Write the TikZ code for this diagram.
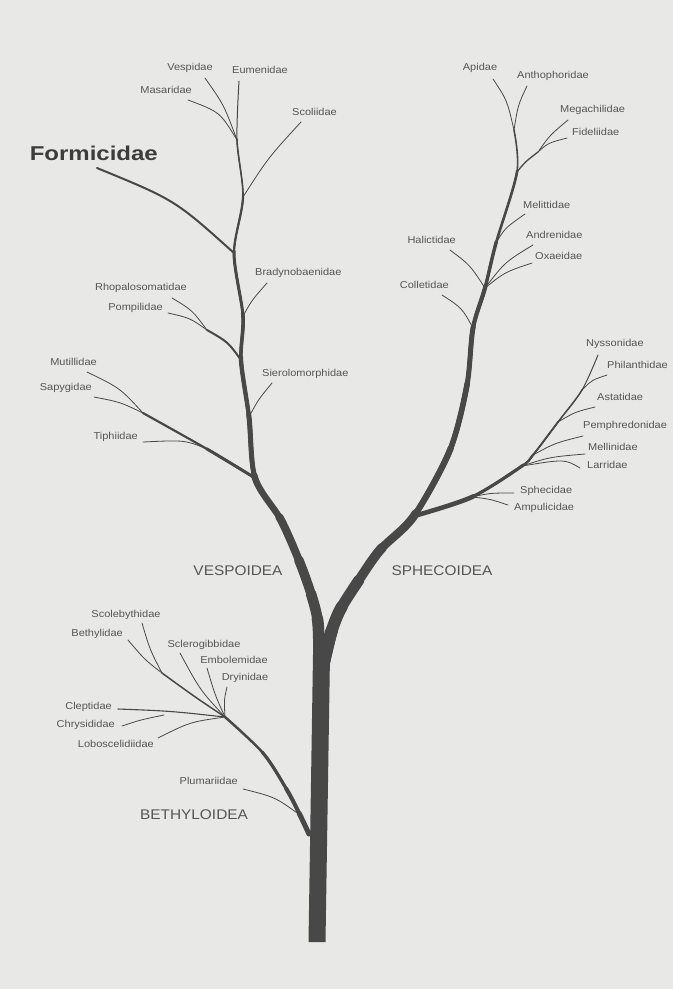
\documentclass[tikz,border=0pt]{standalone}
\usepackage{fontspec}
\usetikzlibrary{positioning}
\newfontfamily\labfont[FakeStretch=1.1]{Liberation Sans}
\newfontfamily\headfont[FakeStretch=1.2]{Liberation Sans}
\definecolor{paper}{HTML}{E8E8E6}
\definecolor{bark}{HTML}{484848}
\definecolor{inkl}{HTML}{555555}
\definecolor{inkd}{HTML}{3C3C3C}

\begin{document}
\begin{tikzpicture}[x=1pt, y=-1pt,
  fam/.style={font=\labfont\fontsize{10}{12}\selectfont, text=inkl, inner sep=0pt},
  famL/.style={fam, anchor=mid east},
  famR/.style={fam, anchor=mid west},
  famC/.style={fam, anchor=mid},
  group/.style={font=\labfont\fontsize{14}{16}\selectfont, text=inkl, inner sep=0pt, anchor=center},
  twig/.style={draw=bark, line width=0.8pt, line cap=round},
  stem/.style={draw=bark, line cap=round, line join=round},
  startat/.style={dash pattern=on 3000pt off #1pt, dash phase=3000pt}]
\fill[paper] (0,0) rectangle (673,989);
\path[use as bounding box] (0,0) rectangle (673,989);

% junctions along the three stems
\coordinate (eu) at (239,81);
\coordinate (vt) at (237,140);
\coordinate (vs) at (243,197);
\coordinate (vf) at (234,253);
\coordinate (vb) at (243,316);
\coordinate (vp) at (241,360);
\coordinate (vsi) at (249,417);
\coordinate (vti) at (255,478);
\coordinate (va) at (281,520);
\coordinate (vbb) at (300,563);
\coordinate (vc) at (312,597);
\coordinate (vd) at (318,623);
\coordinate (vj) at (319,660);
\coordinate (st) at (514,130);
\coordinate (sm) at (517,172);
\coordinate (sme) at (496,243);
\coordinate (sh) at (485,288);
\coordinate (sc) at (473,328);
\coordinate (sd) at (467,385);
\coordinate (se) at (450,450);
\coordinate (sph) at (414,516);
\coordinate (s1) at (380,550);
\coordinate (s2) at (357,583);
\coordinate (s3) at (340,610);
\coordinate (s4) at (331,633);
\coordinate (sj) at (324,662);
\coordinate (sp1) at (472,497);
\coordinate (sp2) at (522,466);
\coordinate (sp3) at (533,455);
\coordinate (sp4) at (558,422);
\coordinate (sp5) at (582,390);
\coordinate (ny) at (598,355);
\coordinate (bt) at (225,717);
\coordinate (bm) at (263,753);
\coordinate (bn) at (287,790);
\coordinate (bo) at (300,815);
\coordinate (bj) at (309,834);
\coordinate (pj) at (207,330);
\coordinate (mj) at (143,413);
\coordinate (tj) at (207,449);
\coordinate (mg) at (538,152);
\coordinate (bbj) at (162,673);
\coordinate (cj) at (164,715);

% family names
\node[famC] (vespidae) at (190,68) {Vespidae};
\node[famC] (eumenidae) at (260,71) {Eumenidae};
\node[famL] (masaridae) at (192,91) {Masaridae};
\node[famR] (scoliidae) at (292,113) {Scoliidae};
\node[font=\headfont\bfseries\fontsize{20}{22}\selectfont, text=inkd, inner sep=0pt, anchor=east] (formicidae) at (158,153) {Formicidae};
\node[famR] (bradyno) at (255,273) {Bradynobaenidae};
\node[famL] (rhopalo) at (187,288) {Rhopalosomatidae};
\node[famL] (pompilidae) at (163,308) {Pompilidae};
\node[famR] (sierolo) at (262,374) {Sierolomorphidae};
\node[famL] (mutillidae) at (97,363) {Mutillidae};
\node[famL] (sapygidae) at (92,388) {Sapygidae};
\node[famL] (tiphiidae) at (138,437) {Tiphiidae};
\node[famC] (apidae) at (480,68) {Apidae};
\node[famR] (anthopho) at (517,76) {Anthophoridae};
\node[famR] (megachil) at (560,110) {Megachilidae};
\node[famR] (fideliid) at (572,133) {Fideliidae};
\node[famR] (melittid) at (523,206) {Melittidae};
\node[famL] (halictid) at (456,241) {Halictidae};
\node[famR] (andrenid) at (526,236) {Andrenidae};
\node[famR] (oxaeidae) at (535,257) {Oxaeidae};
\node[famL] (colletid) at (449,286) {Colletidae};
\node[famR] (nyssonid) at (586,344) {Nyssonidae};
\node[famR] (philanth) at (607,366) {Philanthidae};
\node[famR] (astatid) at (597,398) {Astatidae};
\node[famR] (pemphred) at (583,426) {Pemphredonidae};
\node[famR] (mellinid) at (588,448) {Mellinidae};
\node[famR] (larridae) at (587,466) {Larridae};
\node[famR] (sphecid) at (520,491) {Sphecidae};
\node[famR] (ampulic) at (514,508) {Ampulicidae};
\node[famC] (scolebyt) at (126,615) {Scolebythidae};
\node[famL] (bethylid) at (123,634) {Bethylidae};
\node[famC] (sclerogi) at (204,645) {Sclerogibbidae};
\node[famC] (embolemi) at (234,661) {Embolemidae};
\node[famC] (dryinid) at (245,678) {Dryinidae};
\node[famL] (cleptid) at (112,707) {Cleptidae};
\node[famL] (chrysid) at (115,725) {Chrysididae};
\node[famL] (lobosc) at (154,745) {Loboscelidiidae};
\node[famL] (plumar) at (238,782) {Plumariidae};
\node[group] (vespoid) at (238,571) {VESPOIDEA};
\node[group] (sphecoid) at (442,571) {SPHECOIDEA};
\node[group] (bethyloid) at (194,815) {BETHYLOIDEA};

% twig tips
\coordinate (vespidae-t) at (205,78);
\coordinate (masaridae-t) at (188,100);
\coordinate (scoliidae-t) at (301,122);
\coordinate (formicidae-t) at (97,168);
\coordinate (bradyno-t) at (267,283);
\coordinate (rhopalo-t) at (172,298);
\coordinate (pompilidae-t) at (168,313);
\coordinate (sierolo-t) at (272,383);
\coordinate (mutillidae-t) at (87,372);
\coordinate (sapygidae-t) at (94,397);
\coordinate (tiphiidae-t) at (143,442);
\coordinate (apidae-t) at (493,79);
\coordinate (anthopho-t) at (527,86);
\coordinate (megachil-t) at (568,120);
\coordinate (fideliid-t) at (567,138);
\coordinate (melittid-t) at (525,214);
\coordinate (halictid-t) at (450,250);
\coordinate (andrenid-t) at (533,245);
\coordinate (oxaeidae-t) at (532,263);
\coordinate (colletid-t) at (442,295);
\coordinate (philanth-t) at (607,375);
\coordinate (astatid-t) at (595,407);
\coordinate (pemphred-t) at (583,436);
\coordinate (mellinid-t) at (585,454);
\coordinate (larridae-t) at (580,468);
\coordinate (sphecid-t) at (514,493);
\coordinate (ampulic-t) at (508,505);
\coordinate (scolebyt-t) at (142,623);
\coordinate (bethylid-t) at (128,640);
\coordinate (sclerogi-t) at (180,653);
\coordinate (embolemi-t) at (207,668);
\coordinate (dryinid-t) at (227,687);
\coordinate (cleptid-t) at (118,709);
\coordinate (chrysid-t) at (122,726);
\coordinate (lobosc-t) at (158,738);
\coordinate (plumar-t) at (243,789);

% Vespoidea twigs
\draw[twig] (vespidae-t) .. controls (224,105) .. (vt);
\draw[twig] (masaridae-t) .. controls (220,112) .. (vt);
\draw[twig] (scoliidae-t) .. controls (268,158) .. (vs);
\draw[twig, line width=2pt] (formicidae-t) .. controls (175,200) .. (vf);
\draw[twig] (bradyno-t) .. controls (252,300) .. (vb);
\draw[twig] (rhopalo-t) .. controls (192,310) .. (pj);
\draw[twig] (pompilidae-t) .. controls (190,318) .. (pj);
\draw[twig, line width=2pt] (pj) .. controls (228,342) .. (vp);
\draw[twig] (sierolo-t) .. controls (258,400) .. (vsi);
\draw[twig] (mutillidae-t) .. controls (120,388) .. (mj);
\draw[twig] (sapygidae-t) .. controls (120,402) .. (mj);
\draw[twig] (tiphiidae-t) .. controls (185,440) .. (tj);
\draw[stem, line width=2.2pt] plot[smooth] coordinates {(mj) (tj) (vti)};
\draw[stem, line width=3pt, startat=73] plot[smooth] coordinates {(mj) (tj) (vti)};

% Sphecoidea twigs
\draw[twig] (apidae-t) .. controls (507,100) .. (st);
\draw[twig] (anthopho-t) .. controls (518,105) .. (st);
\draw[twig] (megachil-t) .. controls (550,135) .. (mg);
\draw[twig] (fideliid-t) .. controls (548,143) .. (mg);
\draw[twig, line width=1.3pt] (mg) .. controls (525,162) .. (sm);
\draw[twig] (melittid-t) .. controls (505,228) .. (sme);
\draw[twig] (halictid-t) .. controls (470,265) .. (sh);
\draw[twig] (andrenid-t) .. controls (505,262) .. (sh);
\draw[twig] (oxaeidae-t) .. controls (505,272) .. (sh);
\draw[twig] (colletid-t) .. controls (462,308) .. (sc);
\draw[twig] (philanth-t) .. controls (592,380) .. (sp5);
\draw[twig] (astatid-t) .. controls (575,412) .. (sp4);
\draw[twig] (pemphred-t) .. controls (555,443) .. (sp3);
\draw[twig] (mellinid-t) .. controls (550,457) .. (sp2);
\draw[twig] (sp2) .. controls (565,459) .. (larridae-t);
\draw[twig] (sphecid-t) .. controls (490,493) .. (sp1);
\draw[twig] (ampulic-t) .. controls (490,499) .. (sp1);
\draw[stem, line width=1pt] plot[smooth] coordinates {(ny) (sp5) (sp4) (sp3) (sp2) (sp1) (sph)};
\draw[stem, line width=1.4pt, startat=38] plot[smooth] coordinates {(ny) (sp5) (sp4) (sp3) (sp2) (sp1) (sph)};
\draw[stem, line width=1.8pt, startat=78] plot[smooth] coordinates {(ny) (sp5) (sp4) (sp3) (sp2) (sp1) (sph)};
\draw[stem, line width=2.3pt, startat=119] plot[smooth] coordinates {(ny) (sp5) (sp4) (sp3) (sp2) (sp1) (sph)};
\draw[stem, line width=3.2pt, startat=134] plot[smooth] coordinates {(ny) (sp5) (sp4) (sp3) (sp2) (sp1) (sph)};
\draw[stem, line width=4.6pt, startat=193] plot[smooth] coordinates {(ny) (sp5) (sp4) (sp3) (sp2) (sp1) (sph)};

% Bethyloidea twigs
\draw[twig] (scolebyt-t) .. controls (150,650) .. (bbj);
\draw[twig] (bethylid-t) .. controls (145,660) .. (bbj);
\draw[twig, line width=1.5pt] (bbj) .. controls (195,697) .. (bt);
\draw[twig] (sclerogi-t) .. controls (200,690) .. (bt);
\draw[twig] (embolemi-t) .. controls (215,695) .. (bt);
\draw[twig] (dryinid-t) .. controls (224,700) .. (bt);
\draw[twig] (chrysid-t) .. controls (140,720) .. (cj);
\draw[twig, line width=1.1pt] (cleptid-t) .. controls (170,711) .. (bt);
\draw[twig] (lobosc-t) .. controls (190,722) .. (bt);
\draw[twig] (plumar-t) .. controls (275,797) .. (bo);
\draw[stem, line width=2.5pt] plot[smooth] coordinates {(bt) (bm) (bn) (bo) (bj)};
\draw[stem, line width=3.2pt, startat=51] plot[smooth] coordinates {(bt) (bm) (bn) (bo) (bj)};
\draw[stem, line width=4pt, startat=95] plot[smooth] coordinates {(bt) (bm) (bn) (bo) (bj)};
\draw[stem, line width=5pt, startat=123] plot[smooth] coordinates {(bt) (bm) (bn) (bo) (bj)};

% Vespoid stem, thickening downwards
\draw[stem, line width=1pt] plot[smooth] coordinates {(eu) (vt) (vs) (vf) (vb) (vp) (vsi) (vti) (va) (vbb) (vc) (vd) (vj)};
\draw[stem, line width=1.6pt, startat=58] plot[smooth] coordinates {(eu) (vt) (vs) (vf) (vb) (vp) (vsi) (vti) (va) (vbb) (vc) (vd) (vj)};
\draw[stem, line width=2.2pt, startat=115] plot[smooth] coordinates {(eu) (vt) (vs) (vf) (vb) (vp) (vsi) (vti) (va) (vbb) (vc) (vd) (vj)};
\draw[stem, line width=3pt, startat=171] plot[smooth] coordinates {(eu) (vt) (vs) (vf) (vb) (vp) (vsi) (vti) (va) (vbb) (vc) (vd) (vj)};
\draw[stem, line width=3.6pt, startat=234] plot[smooth] coordinates {(eu) (vt) (vs) (vf) (vb) (vp) (vsi) (vti) (va) (vbb) (vc) (vd) (vj)};
\draw[stem, line width=4.3pt, startat=278] plot[smooth] coordinates {(eu) (vt) (vs) (vf) (vb) (vp) (vsi) (vti) (va) (vbb) (vc) (vd) (vj)};
\draw[stem, line width=5pt, startat=336] plot[smooth] coordinates {(eu) (vt) (vs) (vf) (vb) (vp) (vsi) (vti) (va) (vbb) (vc) (vd) (vj)};
\draw[stem, line width=6.5pt, startat=397] plot[smooth] coordinates {(eu) (vt) (vs) (vf) (vb) (vp) (vsi) (vti) (va) (vbb) (vc) (vd) (vj)};
\draw[stem, line width=8pt, startat=446] plot[smooth] coordinates {(eu) (vt) (vs) (vf) (vb) (vp) (vsi) (vti) (va) (vbb) (vc) (vd) (vj)};
\draw[stem, line width=9.5pt, startat=493] plot[smooth] coordinates {(eu) (vt) (vs) (vf) (vb) (vp) (vsi) (vti) (va) (vbb) (vc) (vd) (vj)};
\draw[stem, line width=10.5pt, startat=529] plot[smooth] coordinates {(eu) (vt) (vs) (vf) (vb) (vp) (vsi) (vti) (va) (vbb) (vc) (vd) (vj)};
\draw[stem, line width=11.5pt, startat=555] plot[smooth] coordinates {(eu) (vt) (vs) (vf) (vb) (vp) (vsi) (vti) (va) (vbb) (vc) (vd) (vj)};

% Sphecoid stem
\draw[stem, line width=1.6pt] plot[smooth] coordinates {(st) (sm) (sme) (sh) (sc) (sd) (se) (sph) (s1) (s2) (s3) (s4) (sj)};
\draw[stem, line width=2.6pt, startat=41] plot[smooth] coordinates {(st) (sm) (sme) (sh) (sc) (sd) (se) (sph) (s1) (s2) (s3) (s4) (sj)};
\draw[stem, line width=3.4pt, startat=115] plot[smooth] coordinates {(st) (sm) (sme) (sh) (sc) (sd) (se) (sph) (s1) (s2) (s3) (s4) (sj)};
\draw[stem, line width=4.2pt, startat=161] plot[smooth] coordinates {(st) (sm) (sme) (sh) (sc) (sd) (se) (sph) (s1) (s2) (s3) (s4) (sj)};
\draw[stem, line width=5pt, startat=203] plot[smooth] coordinates {(st) (sm) (sme) (sh) (sc) (sd) (se) (sph) (s1) (s2) (s3) (s4) (sj)};
\draw[stem, line width=5.6pt, startat=260] plot[smooth] coordinates {(st) (sm) (sme) (sh) (sc) (sd) (se) (sph) (s1) (s2) (s3) (s4) (sj)};
\draw[stem, line width=6.2pt, startat=327] plot[smooth] coordinates {(st) (sm) (sme) (sh) (sc) (sd) (se) (sph) (s1) (s2) (s3) (s4) (sj)};
\draw[stem, line width=8.4pt, startat=401] plot[smooth] coordinates {(st) (sm) (sme) (sh) (sc) (sd) (se) (sph) (s1) (s2) (s3) (s4) (sj)};
\draw[stem, line width=9.6pt, startat=449] plot[smooth] coordinates {(st) (sm) (sme) (sh) (sc) (sd) (se) (sph) (s1) (s2) (s3) (s4) (sj)};
\draw[stem, line width=11pt, startat=489] plot[smooth] coordinates {(st) (sm) (sme) (sh) (sc) (sd) (se) (sph) (s1) (s2) (s3) (s4) (sj)};
\draw[stem, line width=12pt, startat=521] plot[smooth] coordinates {(st) (sm) (sme) (sh) (sc) (sd) (se) (sph) (s1) (s2) (s3) (s4) (sj)};
\draw[stem, line width=12.5pt, startat=547] plot[smooth] coordinates {(st) (sm) (sme) (sh) (sc) (sd) (se) (sph) (s1) (s2) (s3) (s4) (sj)};

% trunk
\fill[bark] (308.5,942) -- (313,655) -- (330,655) -- (325.5,942) -- cycle;
\end{tikzpicture}
\end{document}
